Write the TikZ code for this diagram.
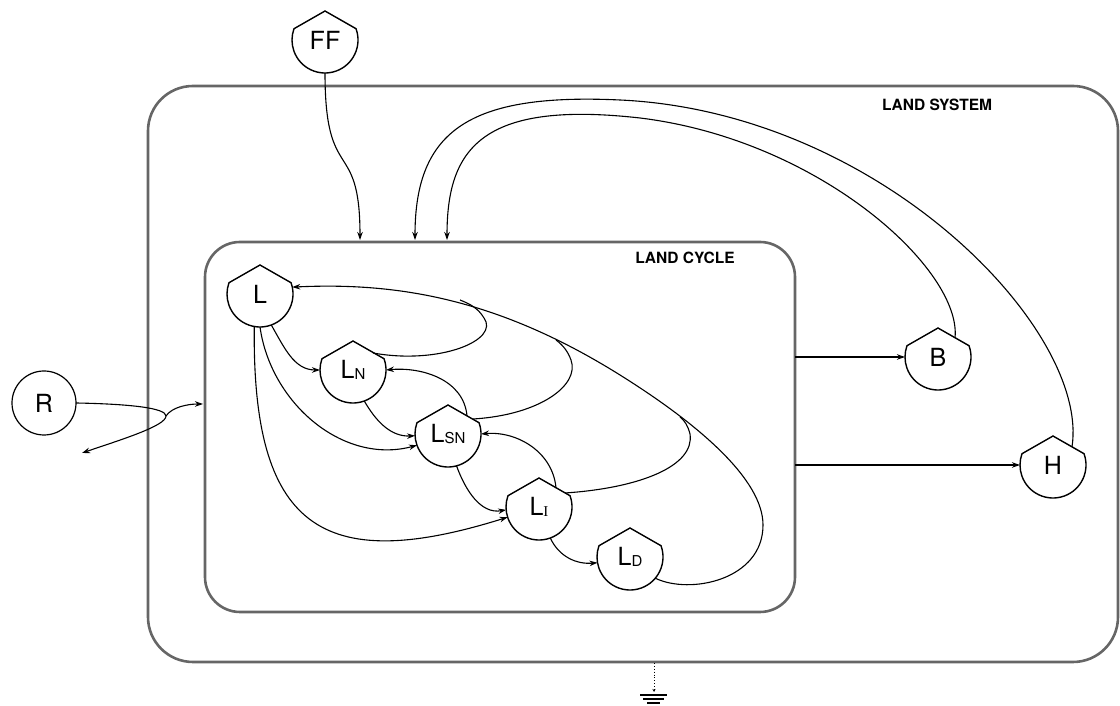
\documentclass[tikz,border=0pt]{standalone}
\usepackage{fontspec}
\setmainfont{TeX Gyre Heros}
\newfontfamily\serifI{Liberation Serif}
\usetikzlibrary{arrows.meta,calc}
\tikzset{
  tank/.style={circle, minimum size=66pt, inner sep=0pt, outer sep=0pt, font=\fontsize{25}{25}\selectfont},
  src/.style={circle, draw, line width=1.2pt, minimum size=64pt, inner sep=0pt, outer sep=0pt, font=\fontsize{25}{25}\selectfont},
  conn/.style={line width=1.1pt, -{Stealth[length=8pt,width=5.5pt]}},
  plainline/.style={line width=1.1pt},
  frame/.style={line width=2.6pt, draw=black!60},
  outline/.style={line width=1.4pt},
  title/.style={font=\bfseries\fontsize{15.5}{16}\selectfont},
  gline/.style={line width=1.5pt},
}
\newcommand{\tankshape}[1]{\draw[outline] (#1.20) arc[start angle=20,end angle=-200,radius=33pt] -- ($(#1.center)+(0,29)$) -- cycle;}
\newcommand{\Lsub}[1]{L\raisebox{-1pt}{\fontsize{15}{15}\selectfont #1}}
\begin{document}
\begin{tikzpicture}[x=1pt,y=1pt]
\useasboundingbox (0,0) rectangle (1120,706);
% frames
\draw[frame, rounded corners=45pt] (148,44) rectangle (1118,620);
\draw[frame, rounded corners=35pt] (205,94) rectangle (795,464);
\node[title] (ls) at (937,601) {LAND SYSTEM};
\node[title] (lc) at (685,448) {LAND CYCLE};
% nodes
\node[tank] (FF) at (325,666) {FF};
\node[tank] (L) at (260,412) {L};
\node[tank] (LN) at (353,336) {\Lsub{N}};
\node[tank] (LSN) at (448,272) {\Lsub{SN}};
\node[tank] (LI) at (539,199) {L\raisebox{-1pt}{\serifI\fontsize{15}{15}\selectfont I}};
\node[tank] (LD) at (630,149) {\Lsub{D}};
\node[tank] (B) at (938,349) {B};
\node[tank] (H) at (1053,241) {H};
\node[src] (R) at (44,303) {R};
\foreach \n in {FF,L,LN,LSN,LI,LD,B,H} {\tankshape{\n}}
% coordinates
\coordinate (ffin) at (360,466);
\coordinate (hin) at (415,466);
\coordinate (bin) at (447,466);
\coordinate (bout) at (795,349);
\coordinate (hout) at (795,241);
\coordinate (rsplit) at (166,290);
\coordinate (rin) at (203,302);
\coordinate (rout) at (82,253);
\coordinate (gndtop) at (654,43);
\coordinate (gndbot) at (654,14);
% external flows
\draw[conn] (FF.south) .. controls (325,520) and (360,570) .. (ffin);
\draw[conn] ($(B.center)+(17,19)$) .. controls (962,436) and (820,566) .. (640,588) .. controls (480,606) and (447,556) .. (bin);
\draw[conn] ($(H.center)+(19,18)$) .. controls (1090,376) and (880,594) .. (620,606) .. controls (470,613) and (415,576) .. (hin);
\draw[conn] (bout) -- (B.west);
\draw[conn] (hout) -- (H.west);
\draw[conn] (R.east) .. controls (130,302) and (166,298) .. (rsplit) .. controls (166,280) and (120,266) .. (rout);
\draw[conn] (rsplit) .. controls (172,299) and (188,302) .. (rin);
% internal flows
\draw[conn] (L.-70) to[out=-60, in=180] (LN.west);
\draw[conn] (L.-90) to[out=-82, in=195] (LSN.200);
\draw[conn] (L.-100) .. controls (252,180) and (320,130) .. (LI.198);
\draw[conn] (LN.-70) to[out=-60, in=183] (LSN.183);
\draw[conn] (LSN.-75) to[out=-70, in=190] (LI.185);
\draw[conn] (LI.-70) to[out=-65, in=185] (LD.190);
\draw[conn] ($(LSN.center)+(19,18)$) to[out=95, in=5] (LN.0);
\draw[conn] ($(LI.center)+(17,19)$) to[out=95, in=5] (LSN.0);
% feedback to L
\draw[conn] (LD.-40) .. controls (690,111) and (763,126) .. (763,181) .. controls (763,226) and (700,281) .. (620,331) .. controls (500,406) and (400,424) .. (L.12);
\draw[plainline] ($(LN.center)+(20,17)$) .. controls (440,341) and (500,366) .. (484,388) .. controls (478,398) and (470,402) .. (460,406);
\draw[plainline] ($(LSN.center)+(25,15)$) .. controls (540,291) and (580,321) .. (571,346) .. controls (568,354) and (564,360) .. (556,366);
\draw[plainline] ($(LI.center)+(26,14)$) .. controls (640,218) and (695,240) .. (690,272) .. controls (688,280) and (685,285) .. (680,289);
% ground
\draw[dotted, line width=0.9pt, -{Stealth[length=3pt,width=3pt]}] (gndtop) -- (gndbot);
\draw[gline] (640,11) -- (667,11);
\draw[gline] (643,7) -- (664,7);
\draw[gline] (647,3) -- (660,3);
\end{tikzpicture}
\end{document}
